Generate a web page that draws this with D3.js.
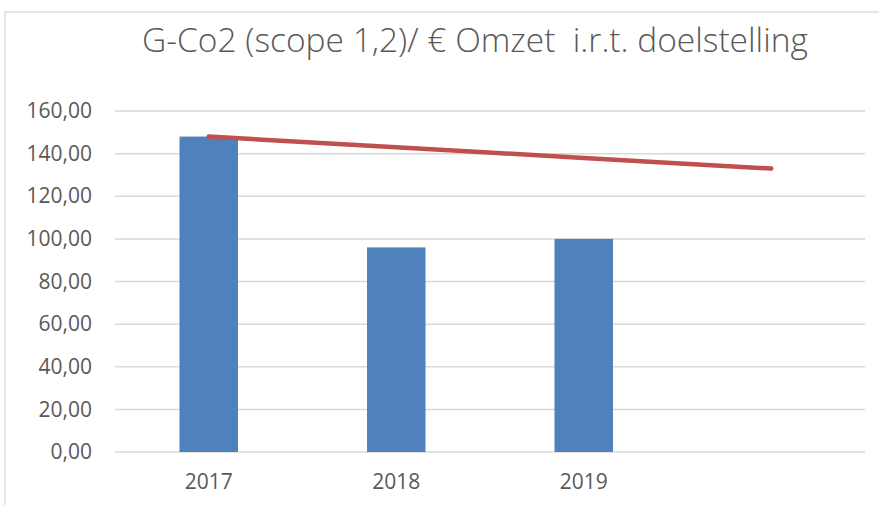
<!DOCTYPE html>
<html>
<head>
<meta charset="utf-8">
<script src="https://cdn.jsdelivr.net/npm/d3@7"></script>
<style>
  body { margin: 0; background: #fff; }
  svg { display: block; }
</style>
</head>
<body>
<div id="chart"></div>
<script>
// data
var years = ["2017", "2018", "2019", ""]
var co2PerOmzet = [148, 96, 100, null]
var doelstelling = [148, 143, 138, 133]
var yTicks = [0, 20, 40, 60, 80, 100, 120, 140, 160]
var titleText = "G-Co2 (scope 1,2)/ \u20ac Omzet  i.r.t. doelstelling"

var width = 879
var height = 505
var margin = {left: 115, right: 14, top: 111, bottom: 53}

var svg = d3.select("#chart")
            .append("svg")
            .attr("width", width)
            .attr("height", height)

// chart area frame
svg.append("rect")
    .attr("x", 5)
    .attr("y", 12)
    .attr("width", 1000)
    .attr("height", 1000)
    .attr("fill", "none")
    .attr("stroke", "#d9d9d9")
    .attr("stroke-width", 1.3)

svg.append("text")
    .attr("x", 475)
    .attr("y", 52)
    .attr("text-anchor", "middle")
    .attr("font-family", "Open Sans")
    .attr("font-weight", 300)
    .attr("font-size", 33.5)
    .attr("fill", "#595959")
    .style("white-space", "pre")
    .text(titleText)

var x = d3.scaleBand()
            .domain(years)
            .range([margin.left, width - margin.right])

var y = d3.scaleLinear()
            .domain([0, 160])
            .range([height - margin.bottom, margin.top])

var fmt = function(v){ return d3.format(".2f")(v).replace(".", ",") }

// gridlines
svg.append("g")
    .selectAll("line")
    .data(yTicks)
    .enter()
    .append("line")
    .attr("x1", margin.left)
    .attr("x2", width - margin.right)
    .attr("y1", function(d){ return y(d) })
    .attr("y2", function(d){ return y(d) })
    .attr("stroke", "#d9d9d9")
    .attr("stroke-width", 1.5)

// y axis labels
var yAxis = svg.append("g")
    .attr("transform", "translate(" + (margin.left - 23) + ",0)")
    .call(d3.axisLeft(y).tickValues(yTicks).tickFormat(fmt).tickSize(0).tickPadding(0))
yAxis.select(".domain").remove()
yAxis.selectAll("text")
    .attr("font-family", "Open Sans")
    .attr("font-size", 21)
    .attr("fill", "#595959")

// x axis labels
var xAxis = svg.append("g")
    .attr("transform", "translate(0," + (height - margin.bottom) + ")")
    .call(d3.axisBottom(x).tickSize(0).tickPadding(22))
xAxis.select(".domain").remove()
xAxis.selectAll("text")
    .attr("font-family", "Open Sans")
    .attr("font-size", 21)
    .attr("fill", "#595959")

var barW = x.bandwidth() * 0.312

svg.append("g")
    .selectAll("rect")
    .data(years.filter(function(d, i){ return co2PerOmzet[i] != null }))
    .enter()
    .append("rect")
    .attr("x", function(d){ return x(d) + x.bandwidth() / 2 - barW / 2 })
    .attr("y", function(d, i){ return y(co2PerOmzet[i]) })
    .attr("width", barW)
    .attr("height", function(d, i){ return y(0) - y(co2PerOmzet[i]) })
    .attr("fill", "#4f81bd")

var line = d3.line()
    .x(function(d, i){ return x(years[i]) + x.bandwidth() / 2 })
    .y(function(d){ return y(d) })

svg.append("path")
    .datum(doelstelling)
    .attr("d", line)
    .attr("fill", "none")
    .attr("stroke", "#c0504d")
    .attr("stroke-width", 4.5)
    .attr("stroke-linecap", "round")
</script>
</body>
</html>
